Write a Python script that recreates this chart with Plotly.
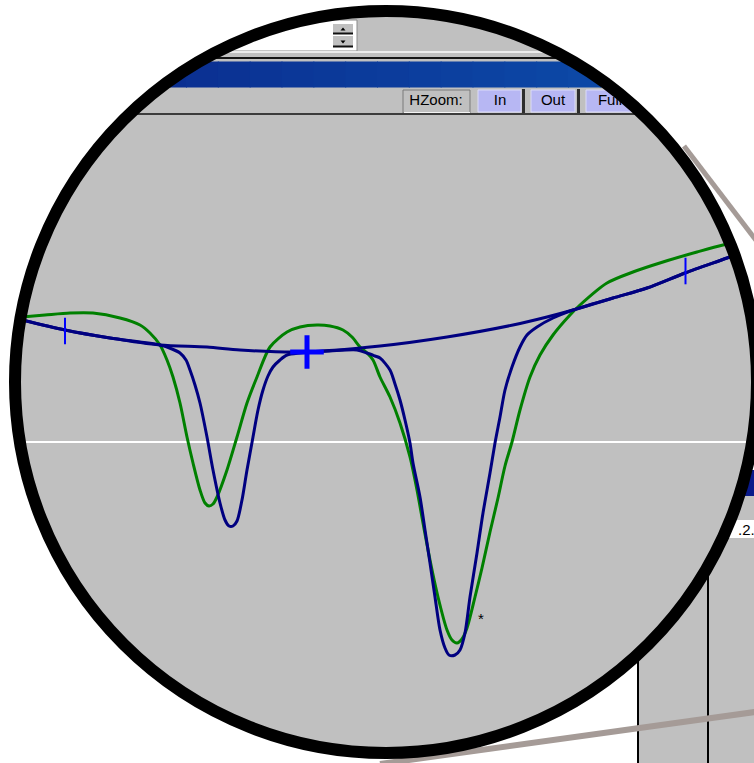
import math
import numpy as np
import plotly.graph_objects as go

W, H = 754, 763

# ---- chromatogram data: retention time (min) / detector signal (mV) ----
baseline_t = [0.22, 0.65, 1.10, 1.60, 2.07, 2.40, 3.00, 3.80, 4.47, 5.13,
              5.47, 5.73, 6.13, 6.47, 6.85, 7.27, 7.60]
baseline_mv = [12.2, 11.2, 10.4, 9.7, 9.5, 9.2, 9.0, 9.6, 10.5, 11.7,
               12.5, 13.2, 14.4, 15.4, 16.9, 18.4, 19.6]

sample_t = [0.22, 0.65, 1.10, 1.60, 1.72, 1.80, 1.86, 1.90, 1.95, 2.00,
            2.07, 2.13, 2.20, 2.25, 2.29, 2.33, 2.37, 2.42, 2.47, 2.53,
            2.58, 2.63, 2.68, 2.73, 2.80, 2.87, 3.00, 3.30, 3.57, 3.67,
            3.75, 3.80, 3.90, 3.95, 4.00, 4.05, 4.10, 4.13, 4.20, 4.25,
            4.30, 4.35, 4.40, 4.45, 4.49, 4.55, 4.60, 4.65, 4.70, 4.77,
            4.83, 4.90, 4.95, 5.00, 5.05, 5.12, 5.20, 5.27, 5.37, 5.53,
            5.73, 6.13, 6.47, 6.85, 7.27, 7.60]
sample_mv = [12.2, 11.2, 10.4, 9.7, 9.3, 8.9, 8.2, 7.2, 5.7, 3.9,
             0.5, -2.8, -6.1, -7.8, -8.4, -8.4, -7.9, -5.8, -2.8, 0.5,
             3.2, 5.2, 6.6, 7.5, 8.2, 8.7, 8.9, 9.1, 9.2, 8.9,
             8.6, 8.4, 7.2, 5.8, 4.2, 2.2, -0.1, -2.1, -5.5, -8.8,
             -12.1, -15.5, -18.8, -20.6, -21.3, -21.3, -20.8, -19.1, -15.5, -11.1,
             -7.1, -3.1, -0.1, 2.5, 5.2, 7.5, 9.5, 10.7, 11.5, 12.4,
             13.2, 14.4, 15.4, 16.9, 18.4, 19.6]

reference_t = [0.22, 0.45, 0.70, 0.93, 1.20, 1.40, 1.50, 1.60, 1.67, 1.73,
               1.80, 1.87, 1.93, 2.00, 2.05, 2.09, 2.13, 2.17, 2.27, 2.37,
               2.47, 2.57, 2.70, 2.87, 3.00, 3.17, 3.30, 3.43, 3.52, 3.60,
               3.67, 3.73, 3.80, 3.90, 4.00, 4.10, 4.17, 4.23, 4.30, 4.38,
               4.47, 4.52, 4.57, 4.62, 4.67, 4.75, 4.82, 4.90, 4.98, 5.05,
               5.12, 5.20, 5.30, 5.40, 5.53, 5.70, 5.80, 6.07, 6.33, 6.63,
               6.97, 7.23, 7.60]
reference_mv = [12.5, 12.7, 12.9, 12.9, 12.4, 11.7, 10.9, 9.7, 8.2, 6.5,
                3.9, 0.5, -2.1, -4.8, -6.1, -6.4, -6.2, -5.5, -2.8, 0.5,
                3.9, 6.5, 9.5, 11.0, 11.5, 11.7, 11.6, 11.2, 10.5, 9.5,
                8.9, 8.2, 6.5, 4.5, 1.9, -1.5, -4.8, -8.1, -11.8, -15.5,
                -18.8, -19.8, -20.1, -19.7, -18.6, -15.5, -12.6, -9.0, -5.6, -2.4,
                0.0, 3.2, 6.5, 8.7, 10.7, 12.7, 13.7, 15.9, 17.0, 18.0,
                19.0, 19.7, 20.4]

# integration limits, cursor and peak flag
limit_t = [0.65, 6.855]
limit_mv = [11.1, 17.1]
cursor_t = [3.07]
cursor_mv = [9.0]
flag_t = [4.81]
flag_mv = [-17.8]
flag_text = ["*"]

toolbar_labels = ["HZoom:", "In", "Out", "Full"]
box_label = ".2."

T_RANGE = [0.0, 7.54]
MV_RANGE = [-32.1, 44.2]

# ---- lens geometry (screen pixels) ----
CX, CY = 386.0, 382.0
R_MID = 371.0
RING_W = 12


def fx(x):
    return x / W


def fy(y):
    return 1 - y / H


def to_data(x, y):
    t = T_RANGE[0] + x / W * (T_RANGE[1] - T_RANGE[0])
    v = MV_RANGE[1] - y / H * (MV_RANGE[1] - MV_RANGE[0])
    return t, v


def path(points):
    return "M " + " L ".join(f"{fx(x):.5f},{fy(y):.5f}" for x, y in points) + " Z"


def rect(x0, y0, x1, y1, fill, layer="below", line=None):
    d = dict(type="rect", xref="paper", yref="paper",
             x0=fx(x0), x1=fx(x1), y0=fy(y1), y1=fy(y0),
             fillcolor=fill, layer=layer)
    d["line"] = line if line else dict(width=0)
    return d


def hline(x0, x1, y, color, width, layer="below"):
    return dict(type="line", xref="paper", yref="paper", x0=fx(x0), x1=fx(x1),
                y0=fy(y), y1=fy(y), line=dict(color=color, width=width), layer=layer)


def seg(x0, y0, x1, y1, color, width, layer="above"):
    return dict(type="line", xref="paper", yref="paper", x0=fx(x0), x1=fx(x1),
                y0=fy(y0), y1=fy(y1), line=dict(color=color, width=width), layer=layer)


def poly(points, fill, layer="below"):
    return dict(type="path", xref="paper", yref="paper", path=path(points),
                fillcolor=fill, line=dict(width=0), layer=layer)


def outside_lens(x0, y0, x1, y1, n=80):
    """Rectangle outline with the part inside the lens pushed onto the lens edge."""
    corners = [(x0, y0), (x1, y0), (x1, y1), (x0, y1)]
    pts = []
    for i in range(4):
        a, b = corners[i], corners[(i + 1) % 4]
        for k in range(n):
            s = k / n
            x = a[0] + (b[0] - a[0]) * s
            y = a[1] + (b[1] - a[1]) * s
            dx, dy = x - CX, y - CY
            d = math.hypot(dx, dy)
            if d < R_MID:
                x, y = CX + dx / d * R_MID, CY + dy / d * R_MID
            pts.append((x, y))
    return pts


shapes = []

# window background inside the lens
shapes.append(rect(-5, -5, W + 5, H + 5, "#c0c0c0"))

# combo box with spin buttons
shapes.append(rect(-5, 20, 357, 51, "#ffffff", line=dict(color="#8a8a8a", width=1)))
shapes.append(rect(333, 24, 353, 34, "#c0c0c0"))
shapes.append(rect(333, 36, 353, 47, "#c0c0c0"))
shapes.append(hline(333, 353, 33.5, "#101010", 2))
shapes.append(hline(333, 353, 46.5, "#101010", 2))
shapes.append(poly([(340.5, 30.5), (345.5, 30.5), (343, 27.5)], "#000000"))
shapes.append(poly([(340.5, 40.5), (345.5, 40.5), (343, 43.5)], "#000000"))

# separators and title bar
shapes.append(hline(-5, W + 5, 52, "#ececec", 2))
shapes.append(hline(-5, W + 5, 58, "#151515", 2))
n_strips = 24
c0 = np.array([10, 38, 138])
c1 = np.array([14, 82, 174])
for i in range(n_strips):
    c = c0 + (c1 - c0) * i / (n_strips - 1)
    xa = -5 + (W + 10) * i / n_strips
    xb = -5 + (W + 10) * (i + 1) / n_strips + 1
    shapes.append(rect(xa, 61.5, xb, 87.5, f"rgb({int(c[0])},{int(c[1])},{int(c[2])})"))

# toolbar: label box and zoom buttons
shapes.append(rect(403, 90, 470, 113, "#c0c0c0", line=dict(color="#7a7a7a", width=1)))
shapes.append(hline(404, 470, 112.5, "#f4f4f4", 1))
for bx0, bx1 in [(478, 521), (531, 575), (586, 660)]:
    shapes.append(rect(bx0, 90, bx1, 112, "#b7b7f3", line=dict(color="#dcdcf8", width=1)))
for sx0, sx1 in [(522, 525), (577, 580)]:
    shapes.append(rect(sx0, 89, sx1, 113, "#2e2e2e"))
shapes.append(hline(-5, W + 5, 114, "#3c3c3c", 2))

# ---- lens mask (white outside the circle) ----
ang = np.linspace(0, 2 * np.pi, 361)
circle_pts = [(CX + R_MID * math.cos(a), CY + R_MID * math.sin(a)) for a in ang][::-1]
outer = [(-10, -10), (W + 10, -10), (W + 10, H + 10), (-10, H + 10)]
shapes.append(dict(type="path", xref="paper", yref="paper",
                   path=path(outer) + " " + path(circle_pts),
                   fillrule="evenodd", fillcolor="#ffffff",
                   line=dict(width=0), layer="above"))

# parts of the window visible outside the lens
shapes.append(poly(outside_lens(700, 470, W + 5, 496), "#0a1a8a", layer="above"))
shapes.append(poly(outside_lens(700, 496, W + 5, 520), "#c0c0c0", layer="above"))
shapes.append(poly(outside_lens(700, 520, W + 5, 538), "#ffffff", layer="above"))
shapes.append(poly(outside_lens(638, 538, W + 5, H + 5), "#c0c0c0", layer="above"))
for vx in (638, 708):
    ys = CY + math.sqrt(R_MID ** 2 - (vx - CX) ** 2)
    shapes.append(seg(vx, ys, vx, H + 5, "#000000", 2))

# magnifier leader lines
shapes.append(seg(684, 146, 762, 248, "#a59b97", 5))
shapes.append(seg(380, 764, 762, 711, "#a59b97", 6))

# lens rim
shapes.append(dict(type="circle", xref="paper", yref="paper",
                   x0=fx(CX - R_MID), x1=fx(CX + R_MID),
                   y0=fy(CY + R_MID), y1=fy(CY - R_MID),
                   line=dict(color="#000000", width=RING_W),
                   fillcolor="rgba(0,0,0,0)", layer="above"))

fig = go.Figure()

fig.add_trace(go.Scatter(x=reference_t, y=reference_mv, mode="lines",
                         line=dict(color="#008000", width=3, shape="spline", smoothing=0.8),
                         hoverinfo="skip"))
fig.add_trace(go.Scatter(x=baseline_t, y=baseline_mv, mode="lines",
                         line=dict(color="#000080", width=3, shape="spline", smoothing=0.8),
                         hoverinfo="skip"))
fig.add_trace(go.Scatter(x=sample_t, y=sample_mv, mode="lines",
                         line=dict(color="#000080", width=3, shape="spline", smoothing=0.8),
                         hoverinfo="skip"))
fig.add_trace(go.Scatter(x=limit_t, y=limit_mv, mode="markers",
                         marker=dict(symbol="line-ns", size=19,
                                     line=dict(color="#0000ff", width=2)),
                         hoverinfo="skip"))
fig.add_trace(go.Scatter(x=cursor_t, y=cursor_mv, mode="markers",
                         marker=dict(symbol="cross-thin", size=24,
                                     line=dict(color="#0000ff", width=5)),
                         hoverinfo="skip"))
fig.add_trace(go.Scatter(x=flag_t, y=flag_mv, mode="text", text=flag_text,
                         textposition="middle center",
                         textfont=dict(family="Liberation Sans", size=15, color="#000000"),
                         hoverinfo="skip"))

# toolbar captions (drawn as text so the lens rim clips them)
label_px = [(436, 101), (500, 101), (553, 101), (610, 101)]
lt, lv = zip(*[to_data(x, y) for x, y in label_px])
fig.add_trace(go.Scatter(x=list(lt), y=list(lv), mode="text", text=toolbar_labels,
                         textposition="middle center",
                         textfont=dict(family="Liberation Sans", size=15, color="#000000"),
                         hoverinfo="skip", cliponaxis=False))

fig.update_layout(
    width=W, height=H,
    margin=dict(l=0, r=0, t=0, b=0),
    paper_bgcolor="#ffffff",
    plot_bgcolor="rgba(0,0,0,0)",
    showlegend=False,
    shapes=shapes,
    xaxis=dict(range=T_RANGE, visible=False, fixedrange=True),
    yaxis=dict(range=MV_RANGE, showticklabels=False, ticks="", showgrid=False,
               showline=False, zeroline=True, zerolinecolor="#ffffff",
               zerolinewidth=2, fixedrange=True),
    annotations=[dict(xref="paper", yref="paper", x=fx(736), y=fy(529),
                      xanchor="left", yanchor="middle", showarrow=False,
                      text=box_label,
                      font=dict(family="Liberation Sans", size=15, color="#000000"))],
)

fig.write_html("out.html", config={"displayModeBar": False})
